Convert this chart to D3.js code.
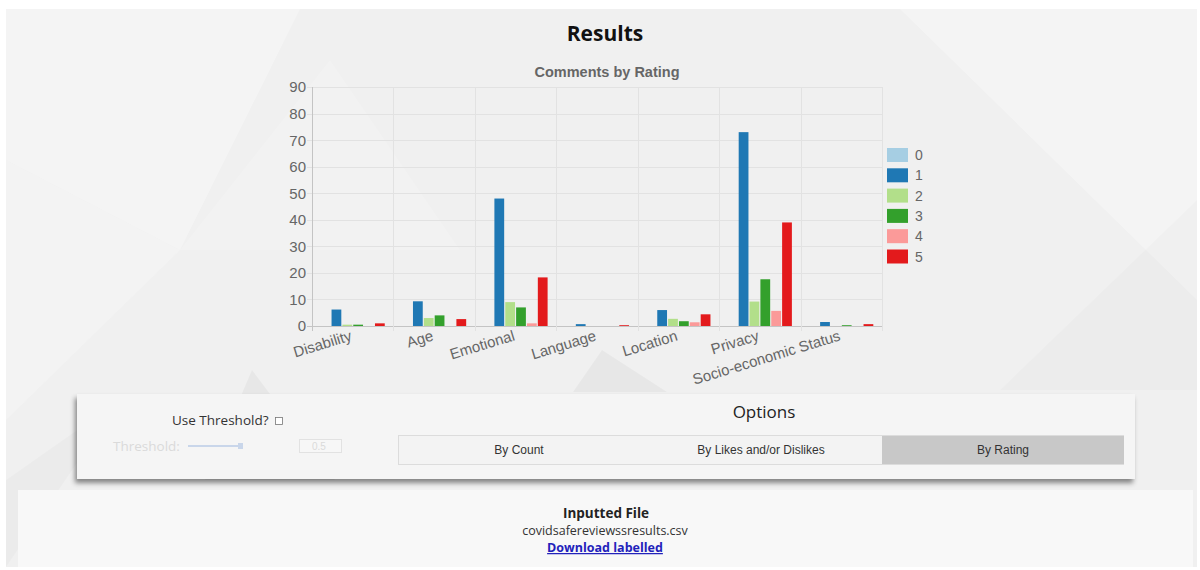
<!DOCTYPE html>
<html>
<head>
<meta charset="utf-8">
<script src="https://cdnjs.cloudflare.com/ajax/libs/d3/7.8.5/d3.min.js"></script>
<style>
  html, body { margin: 0; padding: 0; background: #fff; }
  svg { display: block; }
</style>
</head>
<body>
<svg id="page" width="1200" height="570"></svg>
<script>
// chart data
var categories = ["Disability", "Age", "Emotional", "Language", "Location", "Privacy", "Socio-economic Status"];
var ratings = ["0", "1", "2", "3", "4", "5"];
var rating0 = [0, 0, 0, 0, 0, 0, 0];
var rating1 = [6.2, 9.3, 48, 0.7, 6, 73, 1.5];
var rating2 = [0.5, 3, 9, 0, 2.7, 9.2, 0];
var rating3 = [0.5, 4, 7, 0, 1.8, 17.6, 0.3];
var rating4 = [0, 0, 1, 0, 1.4, 5.7, 0];
var rating5 = [1, 2.6, 18.3, 0.3, 4.4, 39, 0.7];
var yTicks = [0, 10, 20, 30, 40, 50, 60, 70, 80, 90];
var colors = ["#a6cee3", "#1f78b4", "#b2df8a", "#33a02c", "#fb9a99", "#e31a1c"];
var optionButtons = ["By Count", "By Likes and/or Dislikes", "By Rating"];

var seriesValues = [rating0, rating1, rating2, rating3, rating4, rating5];

var svg = d3.select("#page");
var sansChart = "'Liberation Sans', Arial, Helvetica, sans-serif";
var sansPage = "'Open Sans', 'Noto Sans', sans-serif";

// ---- background of the page ----
var defs = svg.append("defs");
var shadow = defs.append("filter").attr("id", "shadow")
    .attr("x", "-5%").attr("y", "-20%").attr("width", "110%").attr("height", "150%");
shadow.append("feDropShadow").attr("dx", -2).attr("dy", 4).attr("stdDeviation", 2.5)
    .attr("flood-color", "#000").attr("flood-opacity", 0.45);

svg.append("rect").attr("x", 6).attr("y", 9).attr("width", 1191).attr("height", 558)
    .attr("fill", "#f0f0f0");

// faint low-poly shapes in the background
var shapes = [
  {p: "6,9 300,9 180,250 6,160", c: "#fff", o: 0.3},
  {p: "6,160 180,250 6,420", c: "#fff", o: 0.2},
  {p: "180,250 330,60 460,250", c: "#fff", o: 0.15},
  {p: "252,370 205,480 335,480", c: "#000", o: 0.035},
  {p: "230,567 262,532 318,567", c: "#000", o: 0.035},
  {p: "602,350 573,392 667,392", c: "#000", o: 0.035},
  {p: "900,9 1197,9 1197,300", c: "#fff", o: 0.3},
  {p: "1000,390 1197,200 1197,390", c: "#000", o: 0.015},
  {p: "6,480 120,400 6,567", c: "#000", o: 0.02}
];
svg.append("g").selectAll("polygon").data(shapes).join("polygon")
    .attr("points", function(d){ return d.p; })
    .attr("fill", function(d){ return d.c; })
    .attr("fill-opacity", function(d){ return d.o; });

// ---- headings ----
svg.append("text").attr("x", 605).attr("y", 41).attr("text-anchor", "middle")
    .attr("font-family", sansPage).attr("font-weight", 700).attr("font-size", 21)
    .attr("fill", "#111").text("Results");

svg.append("text").attr("x", 607).attr("y", 77).attr("text-anchor", "middle")
    .attr("font-family", sansChart).attr("font-weight", 700).attr("font-size", 14.5)
    .attr("fill", "#666").text("Comments by Rating");

// ---- bar chart ----
var plotLeft = 312, plotRight = 882, plotTop = 87, plotBottom = 326;

var x0 = d3.scaleBand().domain(categories).range([plotLeft, plotRight]);
var x1 = d3.scaleBand().domain(ratings).range([x0.bandwidth() * 0.1, x0.bandwidth() * 0.9])
    .paddingInner(0.1).paddingOuter(0.05);
var y = d3.scaleLinear().domain([0, 90]).range([plotBottom, plotTop]);

var chart = svg.append("g");

// horizontal grid lines
chart.append("g").selectAll("line").data(yTicks).join("line")
    .attr("x1", plotLeft - 5).attr("x2", plotRight)
    .attr("y1", function(d){ return Math.round(y(d)) + 0.5; })
    .attr("y2", function(d){ return Math.round(y(d)) + 0.5; })
    .attr("stroke", function(d){ return d === 0 ? "#c4c4c4" : "#e2e2e2"; })
    .attr("stroke-width", 1);

// vertical grid lines at category edges
var edges = categories.map(function(c){ return x0(c); }).concat([plotRight]);
chart.append("g").selectAll("line").data(edges).join("line")
    .attr("x1", function(d){ return Math.round(d) + 0.5; })
    .attr("x2", function(d){ return Math.round(d) + 0.5; })
    .attr("y1", plotTop).attr("y2", plotBottom + 5)
    .attr("stroke", function(d, i){ return i === 0 ? "#c4c4c4" : "#e2e2e2"; });

// y tick labels
chart.append("g").selectAll("text").data(yTicks).join("text")
    .attr("x", plotLeft - 6).attr("y", function(d){ return y(d); })
    .attr("dy", "0.36em").attr("text-anchor", "end")
    .attr("font-family", sansChart).attr("font-size", 15).attr("fill", "#666")
    .text(function(d){ return d; });

// bars
var groups = chart.append("g").selectAll("g").data(categories).join("g")
    .attr("transform", function(c){ return "translate(" + x0(c) + ",0)"; });
groups.selectAll("rect")
    .data(function(c, ci){
      return ratings.map(function(r, ri){ return {r: r, ri: ri, v: seriesValues[ri][ci]}; });
    })
    .join("rect")
    .attr("x", function(d){ return x1(d.r); })
    .attr("width", x1.bandwidth())
    .attr("y", function(d){ return y(d.v); })
    .attr("height", function(d){ return plotBottom - y(d.v); })
    .attr("fill", function(d){ return colors[d.ri]; });

// x labels, rotated
chart.append("g").selectAll("text").data(categories).join("text")
    .attr("transform", function(c){
      return "translate(" + (x0(c) + x0.bandwidth() / 2) + "," + (plotBottom + 14) + ") rotate(-17)";
    })
    .attr("text-anchor", "end")
    .attr("font-family", sansChart).attr("font-size", 15).attr("fill", "#666")
    .text(function(c){ return c; });

// legend
var legend = chart.append("g").selectAll("g").data(ratings).join("g")
    .attr("transform", function(d, i){ return "translate(887," + (148 + i * 20.3) + ")"; });
legend.append("rect").attr("width", 21).attr("height", 14)
    .attr("fill", function(d, i){ return colors[i]; });
legend.append("text").attr("x", 28).attr("y", 7).attr("dy", "0.36em")
    .attr("font-family", sansChart).attr("font-size", 14).attr("fill", "#666")
    .text(function(d){ return d; });

// ---- options panel ----
var panel = svg.append("g");
panel.append("rect").attr("x", 77).attr("y", 394).attr("width", 1058).attr("height", 85)
    .attr("fill", "#f5f5f5").attr("filter", "url(#shadow)");

panel.append("text").attr("x", 172).attr("y", 425)
    .attr("font-family", sansPage).attr("font-size", 13.5).attr("fill", "#333")
    .text("Use Threshold?");
panel.append("rect").attr("x", 275.5).attr("y", 417.5).attr("width", 7).attr("height", 7)
    .attr("fill", "#fff").attr("stroke", "#777").attr("stroke-width", 0.8);

panel.append("text").attr("x", 113).attr("y", 451)
    .attr("font-family", sansPage).attr("font-size", 13.5).attr("fill", "#dadada")
    .text("Threshold:");
panel.append("line").attr("x1", 188).attr("x2", 240).attr("y1", 446).attr("y2", 446)
    .attr("stroke", "#c9d6ea").attr("stroke-width", 2);
panel.append("rect").attr("x", 238).attr("y", 443).attr("width", 5).attr("height", 6)
    .attr("fill", "#c9d6ea");
panel.append("rect").attr("x", 299.5).attr("y", 439.5).attr("width", 42).attr("height", 13)
    .attr("fill", "#f7f7f7").attr("stroke", "#e2e2e2");
panel.append("text").attr("x", 312).attr("y", 450)
    .attr("font-family", sansChart).attr("font-size", 10).attr("fill", "#dadada")
    .text("0.5");

panel.append("text").attr("x", 764).attr("y", 418).attr("text-anchor", "middle")
    .attr("font-family", sansPage).attr("font-size", 17).attr("fill", "#222")
    .text("Options");

var btn = d3.scaleBand().domain(optionButtons).range([398, 1124]);
panel.append("rect").attr("x", 398.5).attr("y", 435.5).attr("width", 725).attr("height", 29)
    .attr("fill", "#f3f3f3").attr("stroke", "#dcdcdc");
var buttons = panel.append("g").selectAll("g").data(optionButtons).join("g")
    .attr("transform", function(d){ return "translate(" + btn(d) + ",436)"; });
buttons.append("rect").attr("width", btn.bandwidth()).attr("height", 28)
    .attr("fill", function(d, i){ return i === 2 ? "#c8c8c8" : "none"; });
buttons.append("text").attr("x", btn.bandwidth() / 2).attr("y", 14).attr("dy", "0.35em")
    .attr("text-anchor", "middle")
    .attr("font-family", sansChart).attr("font-size", 12).attr("fill", "#333")
    .text(function(d){ return d; });

// ---- file info ----
var foot = svg.append("g");
foot.append("rect").attr("x", 18).attr("y", 490).attr("width", 1175).attr("height", 77)
    .attr("fill", "#f8f8f8");
foot.append("text").attr("x", 606).attr("y", 518).attr("text-anchor", "middle")
    .attr("font-family", sansPage).attr("font-weight", 700).attr("font-size", 13.5)
    .attr("fill", "#222").text("Inputted File");
foot.append("text").attr("x", 605).attr("y", 535).attr("text-anchor", "middle")
    .attr("font-family", sansPage).attr("font-size", 12.5)
    .attr("fill", "#333").text("covidsafereviewssresults.csv");
foot.append("text").attr("x", 605).attr("y", 552).attr("text-anchor", "middle")
    .attr("font-family", sansPage).attr("font-weight", 700).attr("font-size", 12.5)
    .attr("text-decoration", "underline")
    .attr("fill", "#2222bb").text("Download labelled");
</script>
</body>
</html>
